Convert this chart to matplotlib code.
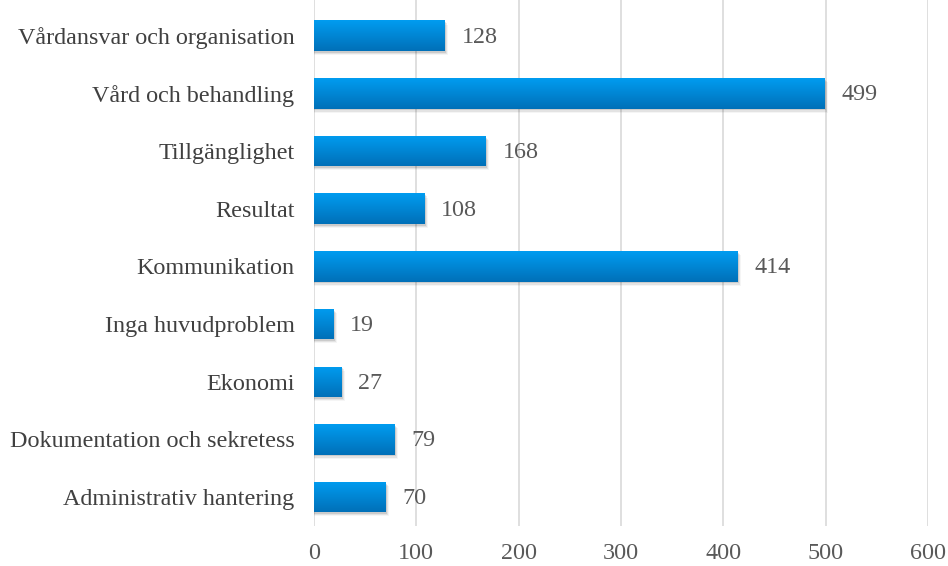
import numpy as np
import matplotlib
matplotlib.use("Agg")
import matplotlib.pyplot as plt
from matplotlib.colors import LinearSegmentedColormap

categories = ["Administrativ hantering", "Dokumentation och sekretess", "Ekonomi",
              "Inga huvudproblem", "Kommunikation", "Resultat", "Tillgänglighet",
              "Vård och behandling", "Vårdansvar och organisation"]
values = [70, 79, 27, 19, 414, 108, 168, 499, 128]
xticks = [0, 100, 200, 300, 400, 500, 600]

plt.rcParams["font.family"] = ["Liberation Serif", "DejaVu Serif"]
TXT = "#595959"
FS = 17.4
H = 0.53

fig = plt.figure(figsize=(9.48, 5.66), dpi=100)
ax = fig.add_axes([0.3312, 0.0707, 0.6477, 0.9293])

grad = LinearSegmentedColormap.from_list("g", ["#0070B8", "#009CF0"])
gimg = np.linspace(0, 1, 64).reshape(-1, 1)

for i, v in enumerate(values):
    # soft shadow below/right of each bar
    for k, a in enumerate([0.10, 0.07, 0.04]):
        ax.add_patch(plt.Rectangle((0, i - H / 2 - 0.03 - k * 0.02), v + 1.2 + k, H,
                                   facecolor="black", alpha=a, lw=0, zorder=2))
    bars = ax.barh(i, v, height=H, color="none", zorder=3)
    im = ax.imshow(gimg, cmap=grad, aspect="auto", origin="lower",
                   extent=[0, v, i - H / 2, i + H / 2], zorder=3)
    im.set_clip_path(bars[0])
    ax.annotate(str(v), (v, i), xytext=(12, -1), textcoords="offset points",
                ha="left", va="center", fontsize=FS, color=TXT)

ax.set_xlim(0, 600)
ax.set_ylim(-0.5, len(categories) - 0.5 + 0.12)
ax.set_yticks(range(len(categories)))
ax.set_yticklabels(categories, fontsize=FS, color="#404040")
ax.set_xticks(xticks)
ax.set_xticklabels([str(t) for t in xticks], fontsize=FS, color=TXT)
ax.tick_params(length=0, pad=14)
ax.tick_params(axis="x", pad=12)
ax.grid(axis="x", color="#D9D9D9", lw=1.2, zorder=0)
ax.set_axisbelow(True)
for s in ax.spines.values():
    s.set_visible(False)

fig.savefig("out.png", dpi=100)
